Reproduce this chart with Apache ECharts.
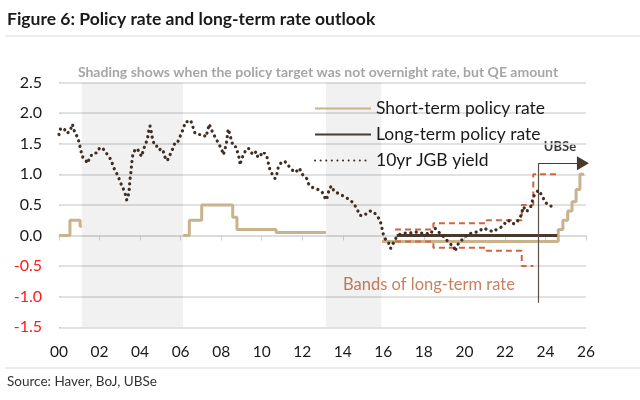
<!DOCTYPE html>
<html>
<head>
<meta charset="utf-8">
<style>html,body{margin:0;padding:0;background:#fff}#c{width:640px;height:400px}</style>
<script src="https://cdn.jsdelivr.net/npm/echarts@6/dist/echarts.min.js"></script>
</head>
<body>
<div id="c"></div>
<script>
// ---- Data (years since 2000) ----
var xTicks = ['00','02','04','06','08','10','12','14','16','18','20','22','24','26'];
var shadeStart = [1.12, 13.17];
var shadeEnd = [6.12, 15.9];

var shortX = [0, 0.54, 1.04, 1.13, null, 6.13, 6.43, 7.04, 8.57, 8.78, 10.71, 13.17, null, 15.93, 24.63, 24.86, 25.1, 25.31, 25.51, 25.7, 25.9];
var shortY = [0, 0.25, 0.15, 0.15, null, 0, 0.25, 0.5, 0.3, 0.1, 0.05, 0.05, null, -0.1, 0.1, 0.25, 0.4, 0.55, 0.75, 1.0, 1.0];

var longX = [16.66, 24.58];
var longY = [0, 0];

var bandUpX = [16.58, 18.47, 21.1, 22.83, 23.4, 24.7];
var bandUpY = [0.1, 0.2, 0.25, 0.5, 1.0, 1.0];
var bandLoX = [16.58, 18.47, 21.1, 22.83, 23.4];
var bandLoY = [-0.1, -0.2, -0.25, -0.5, -0.5];

var yieldX = [0,0.08,0.25,0.38,0.54,0.66,0.79,0.92,1.0,1.07,1.15,1.28,1.41,1.5,1.66,1.86,2.02,2.19,2.32,2.47,2.6,2.68,2.81,2.93,3.01,3.14,3.26,3.34,3.42,3.47,3.5,3.55,3.59,3.64,3.75,3.87,3.96,4.08,4.16,4.29,4.37,4.42,4.49,4.57,4.62,4.74,4.85,4.95,5.07,5.15,5.23,5.34,5.48,5.59,5.72,5.84,5.93,6.05,6.13,6.25,6.38,6.5,6.6,6.71,6.87,7.12,7.25,7.34,7.41,7.53,7.65,7.78,7.91,8.03,8.11,8.19,8.27,8.32,8.35,8.44,8.52,8.63,8.73,8.82,8.9,8.93,9.01,9.13,9.26,9.37,9.47,9.59,9.72,9.8,9.92,10.03,10.13,10.25,10.33,10.41,10.54,10.66,10.74,10.82,10.94,11.04,11.15,11.26,11.4,11.51,11.64,11.76,11.86,11.97,12.09,12.22,12.3,12.47,12.63,12.79,12.96,13.07,13.16,13.24,13.34,13.45,13.57,13.7,13.83,13.95,14.11,14.36,14.52,14.69,14.85,15.01,15.18,15.34,15.51,15.67,15.84,15.92,16.0,16.12,16.25,16.36,16.44,16.53,16.66,16.82,17.07,17.32,17.56,17.81,18.06,18.3,18.55,18.71,18.88,19.04,19.21,19.37,19.49,19.54,19.65,19.78,19.92,20.03,20.19,20.44,20.69,20.93,21.1,21.26,21.43,21.59,21.84,22.0,22.17,22.33,22.5,22.66,22.8,22.91,23.0,23.08,23.16,23.27,23.37,23.45,23.53,23.65,23.76,23.89,24.03,24.22,24.47];
var yieldY = [1.65,1.75,1.75,1.67,1.70,1.82,1.67,1.61,1.51,1.40,1.29,1.25,1.18,1.26,1.34,1.35,1.44,1.41,1.35,1.29,1.21,1.12,1.04,0.96,0.88,0.79,0.69,0.58,0.66,0.77,0.91,1.04,1.18,1.32,1.40,1.42,1.35,1.29,1.40,1.51,1.59,1.70,1.79,1.67,1.56,1.46,1.46,1.40,1.42,1.37,1.28,1.22,1.32,1.40,1.51,1.51,1.59,1.67,1.75,1.86,1.86,1.88,1.78,1.67,1.65,1.65,1.61,1.72,1.82,1.72,1.64,1.56,1.48,1.40,1.32,1.41,1.53,1.67,1.74,1.64,1.53,1.45,1.45,1.35,1.25,1.15,1.25,1.34,1.42,1.42,1.36,1.32,1.37,1.29,1.34,1.30,1.35,1.30,1.18,1.07,0.99,0.93,0.99,1.12,1.18,1.21,1.21,1.15,1.12,1.07,1.03,1.06,1.10,1.02,0.96,0.93,0.85,0.79,0.77,0.75,0.72,0.66,0.58,0.63,0.77,0.81,0.72,0.70,0.68,0.66,0.63,0.58,0.53,0.44,0.33,0.32,0.36,0.40,0.39,0.33,0.25,0.14,0.02,-0.07,-0.11,-0.21,-0.18,-0.10,-0.02,0.02,0.04,0.04,0.06,0.04,0.04,0.02,0.12,0.06,0.02,-0.05,-0.10,-0.16,-0.18,-0.26,-0.16,-0.10,-0.06,-0.02,0.02,0.05,0.06,0.12,0.10,0.08,0.06,0.10,0.14,0.20,0.25,0.20,0.19,0.25,0.33,0.47,0.50,0.39,0.44,0.47,0.58,0.66,0.66,0.74,0.69,0.61,0.53,0.48,0.48];

var ubseX = 23.66, ubseTop = 1.18, ubseBottom = -1.1, ubseArrowEnd = 25.85;

function pairs(xs, ys) {
  return xs.map(function (x, i) { return (x === null || ys[i] === null) ? null : [x, ys[i]]; });
}

var FONT = 'Lato';
var chart = echarts.init(document.getElementById('c'), null, {renderer: 'canvas'});
var option = {
  animation: false,
  backgroundColor: '#fff',
  textStyle: {fontFamily: FONT},
  grid: {left: 59, right: 54, top: 82.5, bottom: 72.7},
  xAxis: [{
    type: 'value', min: 0, max: 26, interval: 2,
    axisLine: {show: false, onZero: false},
    axisTick: {show: false},
    splitLine: {show: false},
    axisLabel: {
      margin: 17, fontSize: 15.5, color: '#1a1a1a', fontFamily: FONT,
      formatter: function (v) { return xTicks[Math.round(v / 2)]; }
    }
  }, {
    type: 'value', min: 0, max: 26, interval: 2, position: 'bottom',
    axisLine: {show: true, onZero: true, lineStyle: {color: '#d9d9d9', width: 1.5}},
    axisTick: {show: true, length: 5, lineStyle: {color: '#d0d0d0', width: 1}},
    axisLabel: {show: false},
    splitLine: {show: false}
  }],
  yAxis: [{
    type: 'value', min: -1.5, max: 2.5, interval: 0.5,
    axisLine: {show: false}, axisTick: {show: false},
    splitLine: {lineStyle: {color: '#d9d9d9', width: 1.5}},
    axisLabel: {
      margin: 17, fontSize: 16, fontFamily: FONT,
      formatter: function (v) { return v.toFixed(1); },
      color: function (v) { return parseFloat(v) < 0 ? '#ff1a1a' : '#1a1a1a'; }
    }
  }, {
    type: 'value', min: -1.5, max: 2.5, interval: 0.5, position: 'right',
    axisLine: {show: false},
    axisTick: {show: true, length: 2, lineStyle: {color: '#cccccc'}},
    axisLabel: {show: false}, splitLine: {show: false}
  }],
  legend: {
    orient: 'vertical', left: 309, top: 94, itemWidth: 56, itemHeight: 14, itemGap: 7,
    textStyle: {fontSize: 17.5, color: '#1a1a1a', fontFamily: FONT, lineHeight: 19},
    itemStyle: {opacity: 0, borderWidth: 0},
    data: ['Short-term policy rate', 'Long-term policy rate', '10yr JGB yield'],
    selectedMode: false
  },
  series: [
    {
      name: 'shade', type: 'line', data: [], z: 1, silent: true,
      markArea: {
        silent: true,
        itemStyle: {color: 'rgba(0,0,0,0.055)'},
        data: shadeStart.map(function (s, i) { return [{xAxis: s}, {xAxis: shadeEnd[i]}]; })
      }
    },
    {
      name: 'bandUp', type: 'line', step: 'end', symbol: 'none', z: 3,
      data: pairs(bandUpX, bandUpY),
      lineStyle: {color: '#d0663f', width: 2, type: [6, 4]}
    },
    {
      name: 'bandLo', type: 'line', step: 'end', symbol: 'none', z: 3,
      data: pairs(bandLoX, bandLoY),
      lineStyle: {color: '#d0663f', width: 2, type: [6, 4]}
    },
    {
      name: 'Short-term policy rate', type: 'line', step: 'end', symbol: 'none', z: 2,
      data: pairs(shortX, shortY), connectNulls: false,
      color: '#c9b38c',
      lineStyle: {color: '#c9b38c', width: 3}
    },
    {
      name: 'Long-term policy rate', type: 'line', symbol: 'none', z: 4,
      data: pairs(longX, longY),
      color: '#4a3a2c',
      lineStyle: {color: '#4a3a2c', width: 3}
    },
    {
      name: '10yr JGB yield', type: 'line', symbol: 'none', z: 5,
      data: pairs(yieldX, yieldY),
      color: '#3e2e24',
      lineStyle: {color: '#3e2e24', width: 3.2, type: [0.1, 5.5], cap: 'round'}
    },
    {
      name: 'ubse', type: 'line', data: [], z: 6, silent: true,
      markLine: {
        silent: true, symbol: ['none', 'none'], label: {show: false},
        lineStyle: {color: '#5e5048', width: 1.2, type: 'solid'},
        data: [
          [{coord: [ubseX, ubseTop]}, {coord: [ubseX, ubseBottom]}],
          [{coord: [ubseX, ubseTop], symbol: 'none'},
           {coord: [ubseArrowEnd, ubseTop], symbol: 'triangle', symbolSize: [14, 12],
            lineStyle: {color: '#4a3a2c'}, itemStyle: {color: '#4a3a2c'}}]
        ]
      }
    }
  ],
  graphic: [
    {type: 'text', left: 7, top: 10, style: {text: 'Figure 6: Policy rate and long-term rate outlook', font: 'bold 17.5px ' + FONT, fill: '#1a1a1a'}},
    {type: 'line', shape: {x1: 5, y1: 36, x2: 640, y2: 36}, style: {stroke: '#d9d9d9', lineWidth: 1}},
    {type: 'text', x: 318, y: 72, style: {text: 'Shading shows when the policy target was not overnight rate, but QE amount', font: 'bold 14px ' + FONT, fill: '#a6a6a6', align: 'center', verticalAlign: 'middle'}},
    {type: 'text', x: 560, y: 147, style: {text: 'UBSe', font: 'bold 13px ' + FONT, fill: '#3a3a3a', align: 'center', verticalAlign: 'middle'}},
    {type: 'text', x: 343, y: 285, style: {text: 'Bands of long-term rate', font: '16.5px ' + FONT, fill: '#c9805f', verticalAlign: 'middle'}},
    {type: 'line', shape: {x1: 5, y1: 368, x2: 640, y2: 368}, style: {stroke: '#d9d9d9', lineWidth: 1}},
    {type: 'text', left: 7, top: 375, style: {text: 'Source: Haver, BoJ, UBSe', font: '13.5px ' + FONT, fill: '#333333'}}
  ]
};
chart.setOption(option);
</script>
</body>
</html>
